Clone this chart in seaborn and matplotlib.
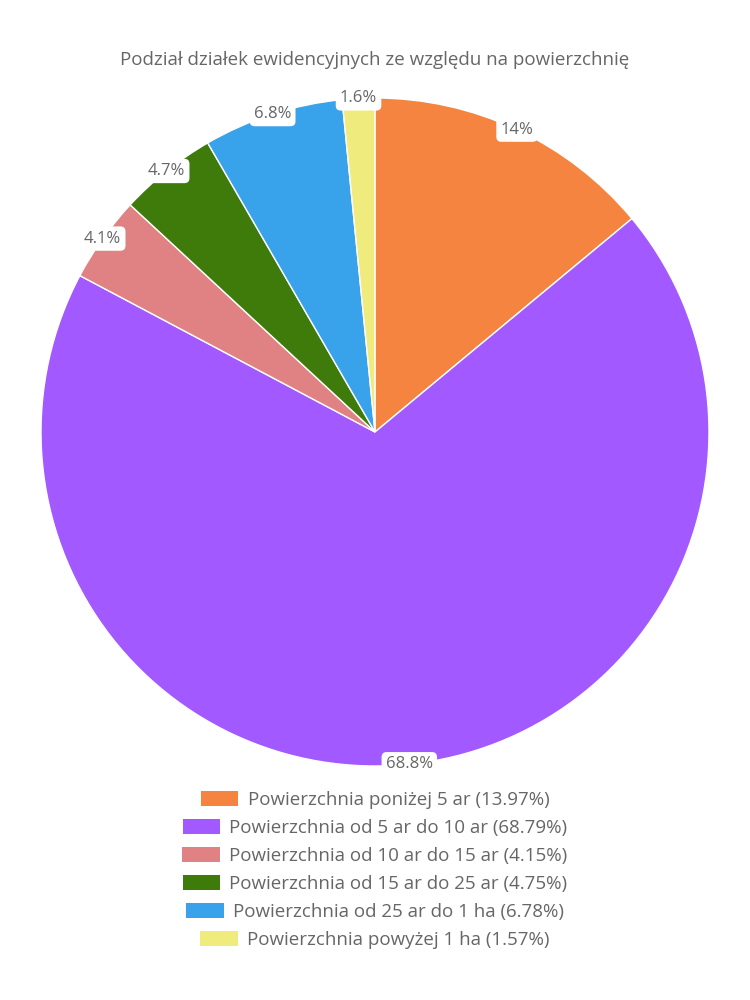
import numpy as np
import pandas as pd
import matplotlib.pyplot as plt
import seaborn as sns
from matplotlib.patches import Patch

# dane
categories = ["Powierzchnia poniżej 5 ar", "Powierzchnia od 5 ar do 10 ar",
              "Powierzchnia od 10 ar do 15 ar", "Powierzchnia od 15 ar do 25 ar",
              "Powierzchnia od 25 ar do 1 ha", "Powierzchnia powyżej 1 ha"]
shares = [13.97, 68.79, 4.148, 4.748, 6.78, 1.57]
colors = ["#F4843F", "#A259FF", "#E08283", "#3E7B0B", "#38A2EA", "#F0EB7D"]
title = "Podział działek ewidencyjnych ze względu na powierzchnię"

df = pd.DataFrame({"kat": categories, "udzial": shares, "kolor": colors})

sns.set_theme(style="white")
plt.rcParams['font.family'] = ['Open Sans', 'DejaVu Sans']
text_col = "#666666"

fig = plt.figure(figsize=(7.5, 10), dpi=100)
ax = fig.add_axes([41 / 750, 234 / 1000, 668 / 750, 668 / 1000])

wedges, _ = ax.pie(df["udzial"], colors=df["kolor"], startangle=90, counterclock=False,
                   radius=1, wedgeprops=dict(edgecolor="white", linewidth=1))
ax.set_xlim(-1, 1)
ax.set_ylim(-1, 1)
ax.set_aspect("equal")
ax.axis("off")

# etykiety procentowe na krawędzi wycinków
for w, v in zip(wedges, df["udzial"]):
    ang = np.deg2rad((w.theta1 + w.theta2) / 2)
    lab = f"{v:.1f}".rstrip("0").rstrip(".") + "%"
    ax.text(np.cos(ang), np.sin(ang), lab, ha="center", va="center", fontsize=12,
            color=text_col, zorder=5,
            bbox=dict(boxstyle="round,pad=0.25,rounding_size=0.3", fc="white", ec="none"))

fig.text(0.5, 1 - 60 / 1000, title, ha="center", va="center", fontsize=13.5, color=text_col)

# legenda - każdy wiersz wyśrodkowany osobno
rows_y = [800, 828, 856, 884, 912, 940]
for k, c, v, y in zip(df["kat"], df["kolor"], df["udzial"], rows_y):
    lg = fig.legend(handles=[Patch(facecolor=c, edgecolor="none")], labels=[f"{k} ({v:.2f}%)"],
                    loc="center", bbox_to_anchor=(0.5, 1 - y / 1000), frameon=False,
                    fontsize=13.5, handlelength=2.0, handleheight=0.85, handletextpad=0.5,
                    borderpad=0, borderaxespad=0)
    for t in lg.get_texts():
        t.set_color(text_col)

fig.savefig("out.png", dpi=100)
